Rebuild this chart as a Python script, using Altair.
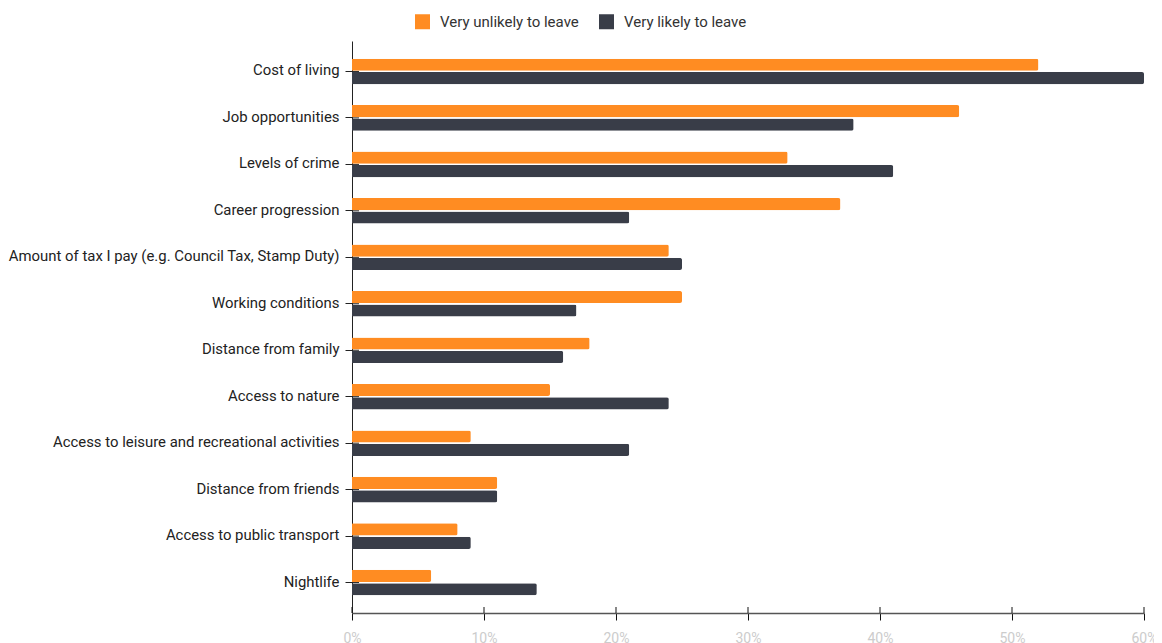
import altair as alt
import pandas as pd

categories = [
    "Cost of living",
    "Job opportunities",
    "Levels of crime",
    "Career progression",
    "Amount of tax I pay (e.g. Council Tax, Stamp Duty)",
    "Working conditions",
    "Distance from family",
    "Access to nature",
    "Access to leisure and recreational activities",
    "Distance from friends",
    "Access to public transport",
    "Nightlife",
]
very_unlikely = [52, 46, 33, 37, 24, 25, 18, 15, 9, 11, 8, 6]
very_likely = [60, 38, 41, 21, 25, 17, 16, 24, 21, 11, 9, 14]
series = ["Very unlikely to leave", "Very likely to leave"]
colors = ["#FF8C22", "#393D48"]
x_ticks = [0, 10, 20, 30, 40, 50, 60]

rows = []
for c, u, l in zip(categories, very_unlikely, very_likely):
    rows.append({"category": c, "series": series[0], "value": u})
    rows.append({"category": c, "series": series[1], "value": l})
df = pd.DataFrame(rows)
ticks_df = pd.DataFrame({"value": x_ticks})
cat_df = pd.DataFrame({"category": categories})

FONT = "Roboto"
W, H = 792, 572

y_enc = alt.Y(
    "category:N", sort=categories, title=None,
    scale=alt.Scale(paddingInner=0.45, paddingOuter=0.38),
    axis=alt.Axis(labelFontSize=14.9, labelColor="#222222", labelFont=FONT,
                  tickSize=7, labelPadding=6, domainColor="#222222",
                  tickColor="#222222", labelLimit=500),
)
x_enc = alt.X(
    "value:Q", title=None, scale=alt.Scale(domain=[0, 60], nice=False),
    axis=alt.Axis(values=x_ticks, labelExpr="datum.value + '%'", grid=False,
                  labelColor="#cccccc", labelFontSize=14, labelFont=FONT,
                  tickSize=7, labelPadding=11, domainColor="#555555",
                  domainWidth=1.5, tickColor="#111111", labelFlush=False),
)

y_inner = alt.Chart(cat_df).mark_rule(color="#222222", strokeWidth=1).encode(
    y=alt.Y("category:N", sort=categories),
    x=alt.value(0), x2=alt.value(7),
)

x_inner = alt.Chart(ticks_df).mark_rule(color="#111111", strokeWidth=1).encode(
    x=alt.X("value:Q"),
    y=alt.value(H - 6), y2=alt.value(H),
)

bars = alt.Chart(df).mark_bar(cornerRadiusEnd=2).encode(
    y=y_enc,
    yOffset=alt.YOffset("series:N", sort=series, scale=alt.Scale(paddingInner=0.1)),
    x=x_enc,
    color=alt.Color(
        "series:N", sort=series,
        scale=alt.Scale(domain=series, range=colors),
        legend=alt.Legend(orient="none", legendX=63, legendY=-27, direction="horizontal",
                          title=None, symbolType="square", symbolSize=225,
                          symbolStrokeWidth=0, labelFontSize=15, labelFont=FONT,
                          labelColor="#333333", labelOffset=10, columnPadding=20,
                          padding=0),
    ),
)

chart = alt.layer(y_inner, bars, x_inner).properties(
    width=W, height=H,
    padding={"left": 0, "top": 6, "right": -3, "bottom": 0},
).configure_view(stroke=None)

chart.save("out.html", embed_options={"renderer": "svg", "actions": False})
